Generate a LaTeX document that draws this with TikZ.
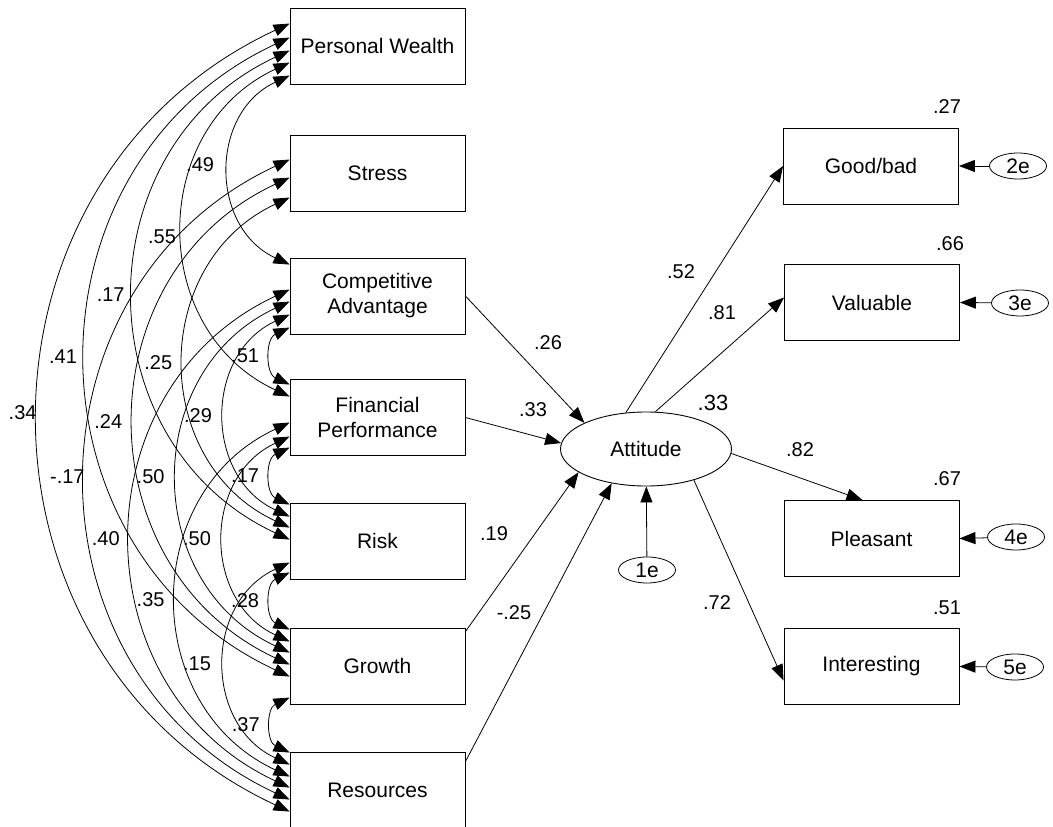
\documentclass[tikz,border=0pt]{standalone}
\usepackage{fontspec}
\setmainfont{Liberation Sans}
\usetikzlibrary{arrows.meta,shapes.geometric}
\begin{document}
\tikzset{
  amos/.tip={Triangle[length=16pt,width=12pt]},
  box/.style={draw, line width=0.9pt, minimum width=175pt, minimum height=76pt,
    inner sep=0pt, align=center, font=\fontsize{21}{25}\selectfont},
  lat/.style={draw, ellipse, line width=0.9pt, minimum width=171pt, minimum height=74pt,
    inner sep=0pt, font=\fontsize{21}{25}\selectfont},
  errv/.style={draw, ellipse, line width=0.8pt, minimum width=57pt, minimum height=26pt,
    inner sep=0pt, font=\fontsize{21}{25}\selectfont},
  reg/.style={line width=0.8pt, -amos},
  cov/.style={line width=0.8pt, amos-amos},
  num/.style={font=\fontsize{20}{24}\selectfont, inner sep=0pt},
}
% covariance arc between two attach points, label just left of the arc's leftmost point
\newcommand\covarc[5][xshift=-12pt]{%
  \draw[cov] (#2) to[out=205,in=155,looseness=1.2]
    node[num,pos=.5,anchor=east,#1] (#5) {#4} (#3);}
\begin{tikzpicture}[x=1pt,y=1pt]
\useasboundingbox (0,0) rectangle (1053,-827);

% exogenous observed variables
\node[box] (pw) at (377.5,-46)    {Personal Wealth};
\node[box] (st) at (377.5,-173)   {Stress};
\node[box] (ca) at (377.5,-296)   {Competitive\\Advantage};
\node[box] (fp) at (377.5,-417.5) {Financial\\Performance};
\node[box] (ri) at (377.5,-541)   {Risk};
\node[box] (gr) at (377.5,-666)   {Growth};
\node[box] (re) at (377.5,-790)   {Resources};

% latent variable and its indicators
\node[lat] (att) at (646,-449) {Attitude};
\node[errv] (e1) at (647,-570) {1e};
\node[box] (gb)   at (871,-166)   {Good/bad};
\node[box] (val)  at (872,-302.5) {Valuable};
\node[box] (ple)  at (871.5,-538.5) {Pleasant};
\node[box] (intr) at (871.5,-666.5) {Interesting};
\node[errv] (e2) at (1018,-166) {2e};
\node[errv] (e3) at (1020,-303) {3e};
\node[errv] (e4) at (1016,-537) {4e};
\node[errv] (e5) at (1015,-667) {5e};

% attach points of the covariance arcs on the left edges
\coordinate (pw-re) at ([yshift=-16pt]pw.north west);
\coordinate (pw-gr) at ([yshift=-30pt]pw.north west);
\coordinate (pw-ri) at ([yshift=-43pt]pw.north west);
\coordinate (pw-fp) at ([yshift=-55pt]pw.north west);
\coordinate (pw-ca) at ([yshift=-68pt]pw.north west);
\coordinate (st-re) at ([yshift=-25pt]st.north west);
\coordinate (st-gr) at ([yshift=-43pt]st.north west);
\coordinate (st-ri) at ([yshift=-63pt]st.north west);
\coordinate (ca-pw) at ([yshift=-7pt]ca.north west);
\coordinate (ca-re) at ([yshift=-32pt]ca.north west);
\coordinate (ca-gr) at ([yshift=-44pt]ca.north west);
\coordinate (ca-ri) at ([yshift=-57pt]ca.north west);
\coordinate (ca-fp) at ([yshift=-70pt]ca.north west);
\coordinate (fp-ca) at ([yshift=-5.5pt]fp.north west);
\coordinate (fp-pw) at ([yshift=-17.5pt]fp.north west);
\coordinate (fp-re) at ([yshift=-43.5pt]fp.north west);
\coordinate (fp-gr) at ([yshift=-57.5pt]fp.north west);
\coordinate (fp-ri) at ([yshift=-68.5pt]fp.north west);
\coordinate (ri-fp) at ([yshift=-2pt]ri.north west);
\coordinate (ri-ca) at ([yshift=-14pt]ri.north west);
\coordinate (ri-st) at ([yshift=-25pt]ri.north west);
\coordinate (ri-pw) at ([yshift=-37pt]ri.north west);
\coordinate (ri-re) at ([yshift=-60pt]ri.north west);
\coordinate (ri-gr) at ([yshift=-70pt]ri.north west);
\coordinate (gr-ri) at ([yshift=-2pt]gr.north west);
\coordinate (gr-fp) at ([yshift=-14pt]gr.north west);
\coordinate (gr-ca) at ([yshift=-25pt]gr.north west);
\coordinate (gr-st) at ([yshift=-37pt]gr.north west);
\coordinate (gr-pw) at ([yshift=-49pt]gr.north west);
\coordinate (gr-re) at ([yshift=-70pt]gr.north west);
\coordinate (re-gr) at ([yshift=-1pt]re.north west);
\coordinate (re-ri) at ([yshift=-13pt]re.north west);
\coordinate (re-fp) at ([yshift=-25pt]re.north west);
\coordinate (re-ca) at ([yshift=-36pt]re.north west);
\coordinate (re-st) at ([yshift=-48pt]re.north west);
\coordinate (re-pw) at ([yshift=-60pt]re.north west);

% covariances
\covarc[xshift=-15pt,yshift=5pt]{pw-ca}{ca-pw}{.49}{c1}
\covarc[xshift=-7pt,yshift=-7pt]{pw-fp}{fp-pw}{.55}{c2}
\covarc[xshift=-9pt]{pw-ri}{ri-pw}{.17}{c3}
\covarc[xshift=-9pt]{pw-gr}{gr-pw}{.41}{c4}
\covarc[xshift=-2pt,yshift=5pt]{pw-re}{re-pw}{.34}{c5}
\covarc{st-ri}{ri-st}{.25}{c6}
\covarc{st-gr}{gr-st}{.24}{c7}
\covarc[xshift=-1pt,yshift=3pt]{st-re}{re-st}{-.17}{c8}
\covarc[xshift=-11pt]{ca-re}{re-ca}{.40}{c9}
\covarc{ca-fp}{fp-ca}{.51}{c10}
\covarc[xshift=-13pt]{ca-ri}{ri-ca}{.29}{c11}
\covarc[xshift=-13pt]{ca-gr}{gr-ca}{.50}{c12}
\covarc{fp-re}{re-fp}{.35}{c13}
\covarc{fp-ri}{ri-fp}{.17}{c14}
\covarc[xshift=-13pt]{fp-gr}{gr-fp}{.50}{c15}
\covarc[xshift=-14pt]{ri-re}{re-ri}{.15}{c16}
\covarc{ri-gr}{gr-ri}{.28}{c17}
\covarc{gr-re}{re-gr}{.37}{c18}

% regressions on the latent variable
\draw[reg] (ca.east) -- (att.157);
\draw[reg] (fp.east) -- (att.176);
\draw[reg] ([yshift=-4pt]gr.north east) -- (att.199);
\draw[reg] ([yshift=-10pt]re.north east) -- (att.225);
\draw[reg] (e1) -- (att);

% loadings and residuals of the indicators
\draw[reg] (att.119) -- (gb.west);
\draw[reg] (att.76) -- ([yshift=5pt]val.west);
\draw[reg] (att.357) -- ([xshift=-9pt]ple.north);
\draw[reg] (att.327) -- ([yshift=-14pt]intr.west);
\draw[reg] (e2) -- (gb.east);
\draw[reg] (e3) -- (val.east);
\draw[reg] (e4) -- (ple.east);
\draw[reg] (e5) -- (intr.east);

% path coefficients
\node[num] (b1) at (548,-343) {.26};
\node[num] (b2) at (533,-410) {.33};
\node[num] (b3) at (494,-534) {.19};
\node[num] (b4) at (514,-613) {-.25};
\node[num] (l1) at (681,-272) {.52};
\node[num] (l2) at (722,-313) {.81};
\node[num] (l3) at (800,-450) {.82};
\node[num] (l4) at (717,-603) {.72};

% squared multiple correlations
\node[num,font=\fontsize{22}{26}\selectfont] (r0) at (713,-403) {.33};
\node[num] (r1) at (947,-107) {.27};
\node[num] (r2) at (950,-244) {.66};
\node[num] (r3) at (947,-479) {.67};
\node[num] (r4) at (947,-608) {.51};
\end{tikzpicture}
\end{document}
